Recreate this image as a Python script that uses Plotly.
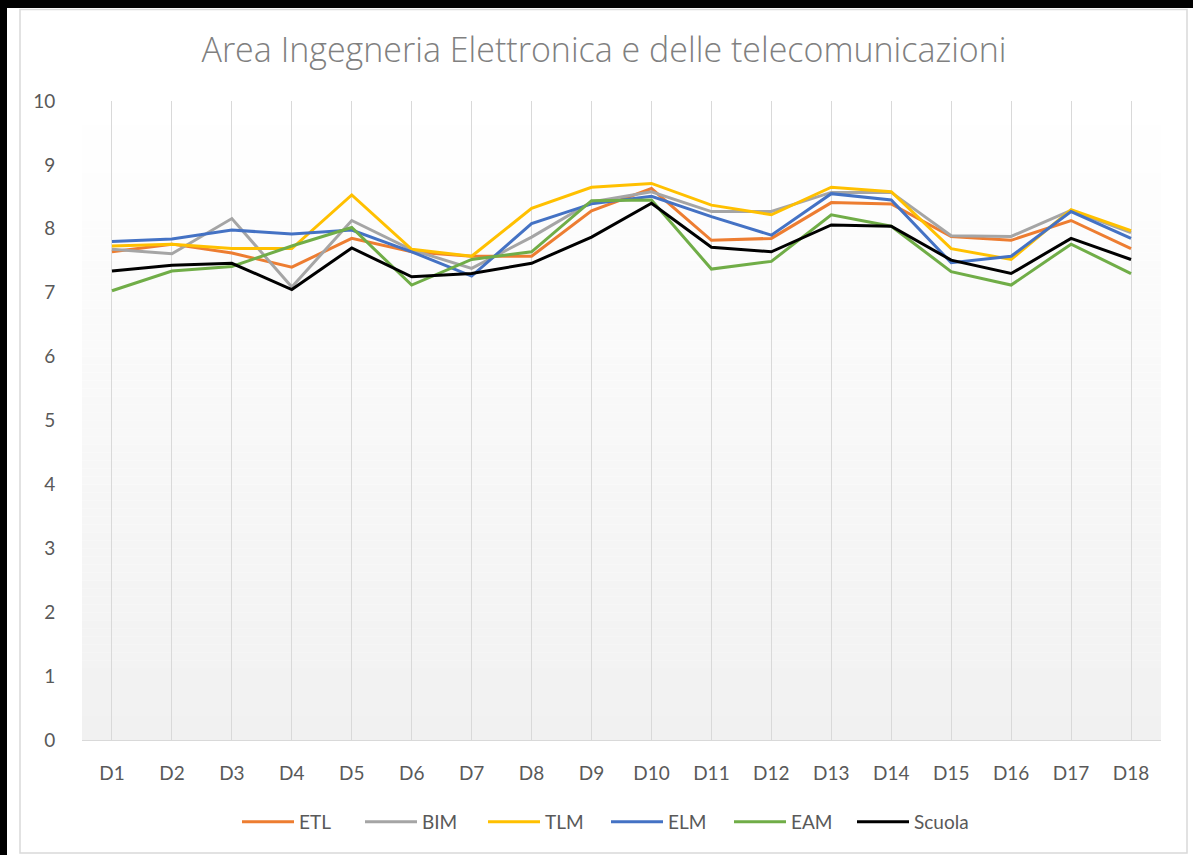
import plotly.graph_objects as go

categories = ["D1", "D2", "D3", "D4", "D5", "D6", "D7", "D8", "D9", "D10",
              "D11", "D12", "D13", "D14", "D15", "D16", "D17", "D18"]

ETL = [7.64, 7.76, 7.62, 7.40, 7.85, 7.64, 7.57, 7.57, 8.28, 8.63,
       7.82, 7.85, 8.41, 8.39, 7.88, 7.82, 8.13, 7.69]
BIM = [7.68, 7.61, 8.16, 7.09, 8.13, 7.67, 7.38, 7.87, 8.42, 8.58,
       8.27, 8.27, 8.57, 8.57, 7.89, 7.88, 8.29, 7.94]
TLM = [7.73, 7.76, 7.69, 7.69, 8.53, 7.68, 7.57, 8.32, 8.65, 8.71,
       8.37, 8.22, 8.65, 8.58, 7.69, 7.52, 8.30, 7.97]
ELM = [7.80, 7.84, 7.98, 7.92, 7.98, 7.64, 7.26, 8.08, 8.39, 8.51,
       8.19, 7.90, 8.55, 8.45, 7.47, 7.57, 8.27, 7.85]
EAM = [7.03, 7.34, 7.41, 7.73, 8.02, 7.12, 7.52, 7.64, 8.44, 8.45,
       7.37, 7.49, 8.22, 8.04, 7.33, 7.12, 7.76, 7.30]
Scuola = [7.34, 7.43, 7.46, 7.05, 7.70, 7.25, 7.30, 7.46, 7.87, 8.40,
          7.71, 7.64, 8.06, 8.04, 7.51, 7.30, 7.85, 7.52]

series = [("ETL", ETL, "#ED7D31"), ("BIM", BIM, "#A5A5A5"), ("TLM", TLM, "#FFC000"),
          ("ELM", ELM, "#4472C4"), ("EAM", EAM, "#70AD47"), ("Scuola", Scuola, "#000000")]

W, H = 1198, 855
L, R, T, B = 82, 1161, 101, 740  # plot area in pixels

def px(x):
    return (x - L) / (R - L)

def py(y):
    return (B - y) / (B - T)

fig = go.Figure()
for name, vals, col in series:
    fig.add_trace(go.Scatter(x=categories, y=vals, name=name, mode="lines",
                             line=dict(color=col, width=3)))

shapes = []
# gradient background of plot area
n = 80
for i in range(n):
    f = i / (n - 1)
    c = int(round(241 + 14 * f))
    shapes.append(dict(type="rect", xref="paper", yref="paper",
                       x0=0, x1=1, y0=i / n, y1=(i + 1) / n,
                       fillcolor=f"rgb({c},{c},{c})", line=dict(width=0),
                       layer="below"))
# chart border (light gray), kept inside the figure
shapes.append(dict(type="rect", xref="paper", yref="paper",
                   x0=px(20), x1=px(1187), y0=py(853), y1=py(9.5),
                   line=dict(color="#D9D9D9", width=1.5), fillcolor="rgba(0,0,0,0)"))
# black screenshot frame (top and left), kept inside the figure
shapes.append(dict(type="rect", xref="paper", yref="paper",
                   x0=px(0), x1=px(1193), y0=py(8), y1=py(0),
                   line=dict(width=0), fillcolor="#000000"))
shapes.append(dict(type="rect", xref="paper", yref="paper",
                   x0=px(0), x1=px(7), y0=py(855), y1=py(0),
                   line=dict(width=0), fillcolor="#000000"))

fig.update_layout(
    width=W, height=H,
    margin=dict(l=L, r=W - R, t=T, b=H - B, pad=0),
    paper_bgcolor="#FFFFFF",
    plot_bgcolor="rgba(0,0,0,0)",
    font=dict(family="Lato, sans-serif", color="#595959", size=19),
    title=dict(text="Area Ingegneria Elettronica e delle telecomunicazioni",
               xref="container", x=604 / W, xanchor="center",
               yref="container", y=1 - 50 / H, yanchor="middle",
               font=dict(size=34, color="#808080", family="Open Sans, sans-serif",
                         weight=300)),
    showlegend=True,
    legend=dict(orientation="h", x=px(606), xanchor="center", y=py(822), yanchor="middle",
                font=dict(size=19, color="#595959"), bgcolor="rgba(0,0,0,0)",
                itemwidth=52, entrywidth=56, tracegroupgap=0),
    shapes=shapes,
)
fig.update_xaxes(type="category", range=[-0.5, 17.5], showgrid=True,
                 gridcolor="#D9D9D9", gridwidth=1, showline=True, linecolor="#D9D9D9",
                 linewidth=1, ticks="outside", ticklen=16, tickcolor="rgba(0,0,0,0)",
                 tickfont=dict(size=19, color="#595959"), zeroline=False, fixedrange=True)
fig.update_yaxes(range=[0, 10], dtick=1, tick0=0, showgrid=False, zeroline=False,
                 showline=False, ticks="outside", ticklen=22, tickcolor="rgba(0,0,0,0)",
                 tickfont=dict(size=19, color="#595959"), fixedrange=True)

post = (
    "document.body.style.margin='0';"
    "document.body.style.overflow='hidden';"
)
fig.write_html("out.html", config={"displayModeBar": False}, post_script=post)
